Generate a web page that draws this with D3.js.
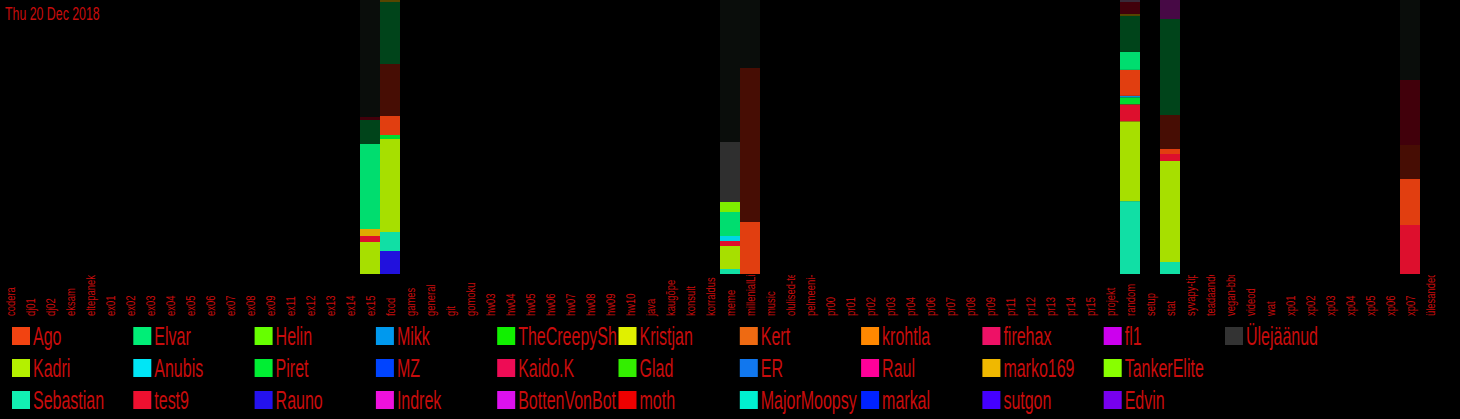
<!DOCTYPE html>
<html>
<head>
<meta charset="utf-8">
<script src="https://cdn.jsdelivr.net/npm/d3@7"></script>
<style>
html,body{margin:0;padding:0;background:#000;}
svg{display:block;}
</style>
</head>
<body>
<script>
// ---------- DATA ----------
const title = "Thu 20 Dec 2018";

const channels = ["codera","dj01","dj02","eksam","eltepanek","ex01","ex02","ex03","ex04","ex05",
  "ex06","ex07","ex08","ex09","ex11","ex12","ex13","ex14","ex15","food","games","general","git",
  "gomoku","hw03","hw04","hw05","hw06","hw07","hw08","hw09","hw10","java","kaugõpe","konsult",
  "korraldus","meme","millenialLife","music","olulised-teated","pelmeeni-klubi","pr00","pr01","pr02",
  "pr03","pr04","pr06","pr07","pr08","pr09","pr11","pr12","pr13","pr14","pr15","projekt","random",
  "setup","stat","syvapy-tips","teadaanded","vegan-bbq","videod","wat","xp01","xp02","xp03","xp04",
  "xp05","xp06","xp07","ülesanded"];

// legend (column-major, 3 rows)
const legendNames = ["Ago","Kadri","Sebastian","Elvar","Anubis","test9","Helin","Piret","Rauno",
  "Mikk","MZ","Indrek","TheCreepySh","Kaido.K","BottenVonBot","Kristjan","Glad","moth",
  "Kert","ER","MajorMoopsy","krohtla","Raul","markal","firehax","marko169","sutgon",
  "fl1","TankerElite","Edvin","Ülejäänud"];
const legendColors = ["#f24311","#b4f000","#12f0b2","#00ee77","#00e6f6","#ee1030","#66ff00","#00ee33","#2412ee",
  "#0099ee","#0044ff","#ee11dd","#11f000","#ee0c55","#dd11ee","#e0f000","#33ee00","#ee0000",
  "#ee6a12","#1177ee","#00f0d0","#ff8800","#ff0099","#0022ff","#ee1166","#f0b800","#4400ff",
  "#cc00ee","#88ff00","#7700ee","#333333"];

// users that appear in bars but not in the legend
const hiddenNames = ["muu-pruun","muu-tumeroheline","muu-oliiv","muu-tumepunane","muu-lilla","muu-hall","muu-must"];
const hiddenColors = ["#4c0e04","#00491c","#5c4a00","#46000c","#4c0a4a","#3c2c3c","#0b0e0c"];

// channels with activity and the stack (bottom -> top)
const barChannels = ["ex15","food","meme","millenialLife","random","stat","xp07"];
const stackKeys = ["Rauno","Sebastian","Kadri","test9","marko169","Piret","Mikk","Anubis","Ago","Elvar",
  "TankerElite","Ülejäänud","muu-pruun","muu-tumeroheline","muu-oliiv","muu-tumepunane","muu-lilla",
  "muu-hall","muu-must"];
const stackValues = [
  [0,23,0,0,0,0,0],        // Rauno
  [0,19,5,0,73,12,0],      // Sebastian
  [32,93,23,0,80,101,0],   // Kadri
  [6,0,5,0,17,7,49],       // test9
  [7,0,0,0,0,0,0],         // marko169
  [0,4,0,0,7,0,0],         // Piret
  [0,0,0,0,1.5,0,0],       // Mikk
  [0,0,5,0,0,0,0],         // Anubis
  [0,19,0,52,26,5,46],     // Ago
  [85,0,24,0,18,0,0],      // Elvar
  [0,0,10,0,0,0,0],        // TankerElite
  [0,0,60,0,0,0,0],        // Ülejäänud
  [0,52,0,154,0,34,34],    // muu-pruun
  [24,62,0,0,36,96,0],     // muu-tumeroheline
  [0,2,0,0,2,0,0],         // muu-oliiv
  [3,0,0,0,12,0,65],       // muu-tumepunane
  [0,0,0,0,0,19,0],        // muu-lilla
  [0,0,0,0,2,0,0],         // muu-hall
  [117,0,142,68,0,0,80]    // muu-must
];

// ---------- CHART ----------
const W = 1460, H = 419;
const textColor = "#c80c0c";
const font = "'Liberation Sans', Arial, sans-serif";

const svg = d3.select("body").append("svg").attr("width", W).attr("height", H)
  .style("background", "#000");

const colorMap = new Map();
legendNames.forEach((n,i)=>colorMap.set(n, legendColors[i]));
hiddenNames.forEach((n,i)=>colorMap.set(n, hiddenColors[i]));

// table
const rows = channels.map(c => {
  const r = {channel: c};
  const bi = barChannels.indexOf(c);
  stackKeys.forEach((k,ki) => { r[k] = bi >= 0 ? stackValues[ki][bi] : 0; });
  return r;
});

const stacked = d3.stack().keys(stackKeys).offset(d3.stackOffsetExpand)(rows);

const x = d3.scaleBand().domain(channels).range([0, 1440]).padding(0);
const y = d3.scaleLinear().domain([0, 1]).range([274, 0]);

const gBars = svg.append("g");
gBars.selectAll("g").data(stacked).join("g")
  .attr("fill", d => colorMap.get(d.key))
  .attr("fill-opacity", 0.93)
  .selectAll("rect")
  .data(d => d.filter(p => p[1] - p[0] > 0))
  .join("rect")
  .attr("x", d => x(d.data.channel))
  .attr("width", x.bandwidth())
  .attr("y", d => y(d[1]))
  .attr("height", d => y(d[0]) - y(d[1]));

// title
svg.append("text")
  .attr("transform", "translate(5,20) scale(0.65,1)")
  .attr("fill", textColor)
  .style("font-family", font).style("font-size", "19px")
  .text(title);

// x labels (clipped at the plot bottom)
const defs = svg.append("defs");
defs.append("clipPath").attr("id", "labclip")
  .append("rect").attr("x", 0).attr("y", 275).attr("width", W).attr("height", 60);

const gLab = svg.append("g").attr("clip-path", "url(#labclip)");
gLab.selectAll("text").data(channels).join("text")
  .attr("transform", d => `translate(${x(d) + x.bandwidth()/2 + 4.5},316) rotate(-90) scale(0.7,1)`)
  .attr("fill", textColor)
  .style("font-family", font).style("font-size", "13.5px")
  .text(d => d);

// legend
const colW = 121.3, rowH = 32, lx0 = 12, ly0 = 327, sw = 18;
const items = legendNames.map((n,i)=>({name:n, color:legendColors[i], col:Math.floor(i/3), row:i%3}));
items.forEach((d,i)=>{
  defs.append("clipPath").attr("id","lc"+i).append("rect")
    .attr("x", lx0 + d.col*colW).attr("y", ly0 + d.row*rowH - 6)
    .attr("width", colW).attr("height", 34);
});
const gLeg = svg.append("g");
gLeg.selectAll("g.item").data(items).join("g")
  .attr("class","item")
  .attr("clip-path", (d,i)=>`url(#lc${i})`)
  .append("text")
  .attr("transform", d => `translate(${lx0 + d.col*colW + sw + 3},${ly0 + d.row*rowH + 18}) scale(0.64,1)`)
  .attr("fill", textColor)
  .style("font-family", font).style("font-size", "25px")
  .text(d => d.name);
gLeg.selectAll("rect.sw").data(items).join("rect")
  .attr("class","sw")
  .attr("x", d => lx0 + d.col*colW)
  .attr("y", d => ly0 + d.row*rowH)
  .attr("width", sw).attr("height", sw)
  .attr("fill", d => d.color);
</script>
</body>
</html>
